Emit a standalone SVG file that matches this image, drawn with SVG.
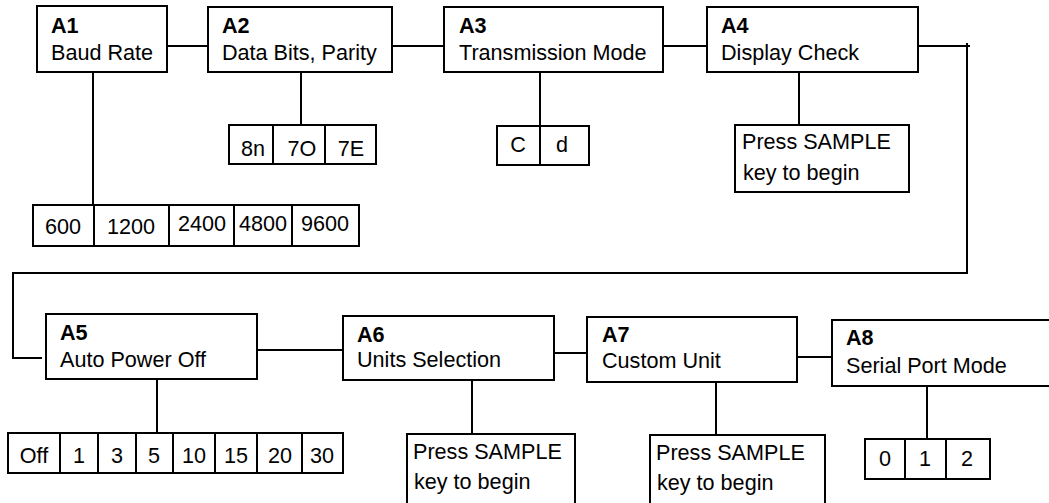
<svg xmlns="http://www.w3.org/2000/svg" width="1049" height="503" viewBox="0 0 1049 503">
<style>
rect{fill:#fff;stroke:#000;stroke-width:2}
line,polyline{stroke:#000;stroke-width:2;fill:none}
text{font-family:"Liberation Sans",Arial,sans-serif;font-size:21.6px;fill:#000}
.b{font-weight:bold}
.c{text-anchor:middle}
</style>
<rect x="0" y="0" width="1049" height="503" style="fill:#fff;stroke:none"/>
<g id="connectors">
<line x1="167" y1="46" x2="208" y2="46"/>
<line x1="392" y1="46" x2="444" y2="46"/>
<line x1="663" y1="46" x2="707" y2="46"/>
<line x1="918" y1="46" x2="970" y2="46"/>
<polyline points="967,43 967,273 13,273 13,358 42,358"/>
<line x1="93" y1="72" x2="93" y2="247"/>
<line x1="301" y1="72" x2="301" y2="125"/>
<line x1="540" y1="72" x2="540" y2="126"/>
<line x1="799" y1="72" x2="799" y2="125"/>
<line x1="255" y1="350" x2="343" y2="350"/>
<line x1="554" y1="353" x2="587" y2="353"/>
<line x1="797" y1="357" x2="832" y2="357"/>
<line x1="157" y1="379" x2="157" y2="433"/>
<line x1="472" y1="378" x2="472" y2="434"/>
<line x1="716" y1="380" x2="716" y2="435"/>
<line x1="927" y1="386" x2="927" y2="439"/>
</g>
<g id="A1">
<rect x="37" y="6" width="130" height="66"/>
<text x="51" y="33" class="b">A1</text>
<text x="51" y="60">Baud Rate</text>
</g>
<g id="A2">
<rect x="208" y="7" width="184" height="65"/>
<text x="222" y="33" class="b">A2</text>
<text x="222" y="60">Data Bits, Parity</text>
</g>
<g id="A3">
<rect x="444" y="7" width="219" height="65"/>
<text x="459" y="33" class="b">A3</text>
<text x="459" y="60">Transmission Mode</text>
</g>
<g id="A4">
<rect x="707" y="7" width="211" height="65"/>
<text x="721" y="33" class="b">A4</text>
<text x="721" y="60">Display Check</text>
</g>
<g id="baud-options">
<rect x="33" y="205" width="326" height="41"/>
<line x1="94" y1="205" x2="94" y2="247"/>
<line x1="169" y1="205" x2="169" y2="246"/>
<line x1="234" y1="205" x2="234" y2="246"/>
<line x1="292" y1="205" x2="292" y2="246"/>
<text x="63" y="234" class="c">600</text>
<text x="131" y="234" class="c">1200</text>
<text x="202" y="231" class="c">2400</text>
<text x="263" y="231" class="c">4800</text>
<text x="325" y="231" class="c">9600</text>
</g>
<g id="data-options">
<rect x="229" y="125" width="147" height="39"/>
<line x1="273" y1="125" x2="273" y2="164"/>
<line x1="325" y1="125" x2="325" y2="164"/>
<text x="253" y="156" class="c">8n</text>
<text x="302" y="156" class="c">7O</text>
<text x="351" y="156" class="c">7E</text>
</g>
<g id="mode-options">
<rect x="497" y="126" width="92" height="39"/>
<line x1="540" y1="126" x2="540" y2="166"/>
<text x="518" y="152" class="c">C</text>
<text x="562" y="152" class="c">d</text>
</g>
<g id="A4-note">
<rect x="735" y="125" width="174" height="67"/>
<text x="742" y="149">Press SAMPLE</text>
<text x="743" y="180">key to begin</text>
</g>
<g id="A5">
<rect x="46" y="314" width="211" height="65"/>
<text x="60" y="340" class="b">A5</text>
<text x="60" y="367">Auto Power Off</text>
</g>
<g id="A6">
<rect x="343" y="316" width="211" height="64"/>
<text x="357" y="342" class="b">A6</text>
<text x="357" y="367">Units Selection</text>
</g>
<g id="A7">
<rect x="587" y="317" width="210" height="65"/>
<text x="602" y="342" class="b">A7</text>
<text x="602" y="368">Custom Unit</text>
</g>
<g id="A8">
<rect x="832" y="320" width="240" height="66"/>
<text x="846" y="345" class="b">A8</text>
<text x="846" y="373">Serial Port Mode</text>
</g>
<g id="power-options">
<rect x="8" y="433" width="335" height="40"/>
<line x1="60" y1="433" x2="60" y2="473"/>
<line x1="98" y1="433" x2="98" y2="473"/>
<line x1="136" y1="433" x2="136" y2="473"/>
<line x1="173" y1="433" x2="173" y2="473"/>
<line x1="215" y1="433" x2="215" y2="473"/>
<line x1="257" y1="433" x2="257" y2="473"/>
<line x1="302" y1="433" x2="302" y2="473"/>
<text x="34" y="463" class="c">Off</text>
<text x="79" y="463" class="c">1</text>
<text x="117" y="463" class="c">3</text>
<text x="154" y="463" class="c">5</text>
<text x="194" y="463" class="c">10</text>
<text x="236" y="463" class="c">15</text>
<text x="280" y="463" class="c">20</text>
<text x="322" y="463" class="c">30</text>
</g>
<g id="A6-note">
<rect x="407" y="434" width="168" height="80"/>
<text x="413" y="459">Press SAMPLE</text>
<text x="414" y="489">key to begin</text>
</g>
<g id="A7-note">
<rect x="650" y="435" width="175" height="80"/>
<text x="656" y="460">Press SAMPLE</text>
<text x="657" y="490">key to begin</text>
</g>
<g id="port-options">
<rect x="865" y="439" width="125" height="40"/>
<line x1="905" y1="439" x2="905" y2="479"/>
<line x1="946" y1="439" x2="946" y2="479"/>
<text x="885" y="466" class="c">0</text>
<text x="925" y="466" class="c">1</text>
<text x="967" y="466" class="c">2</text>
</g>
</svg>
